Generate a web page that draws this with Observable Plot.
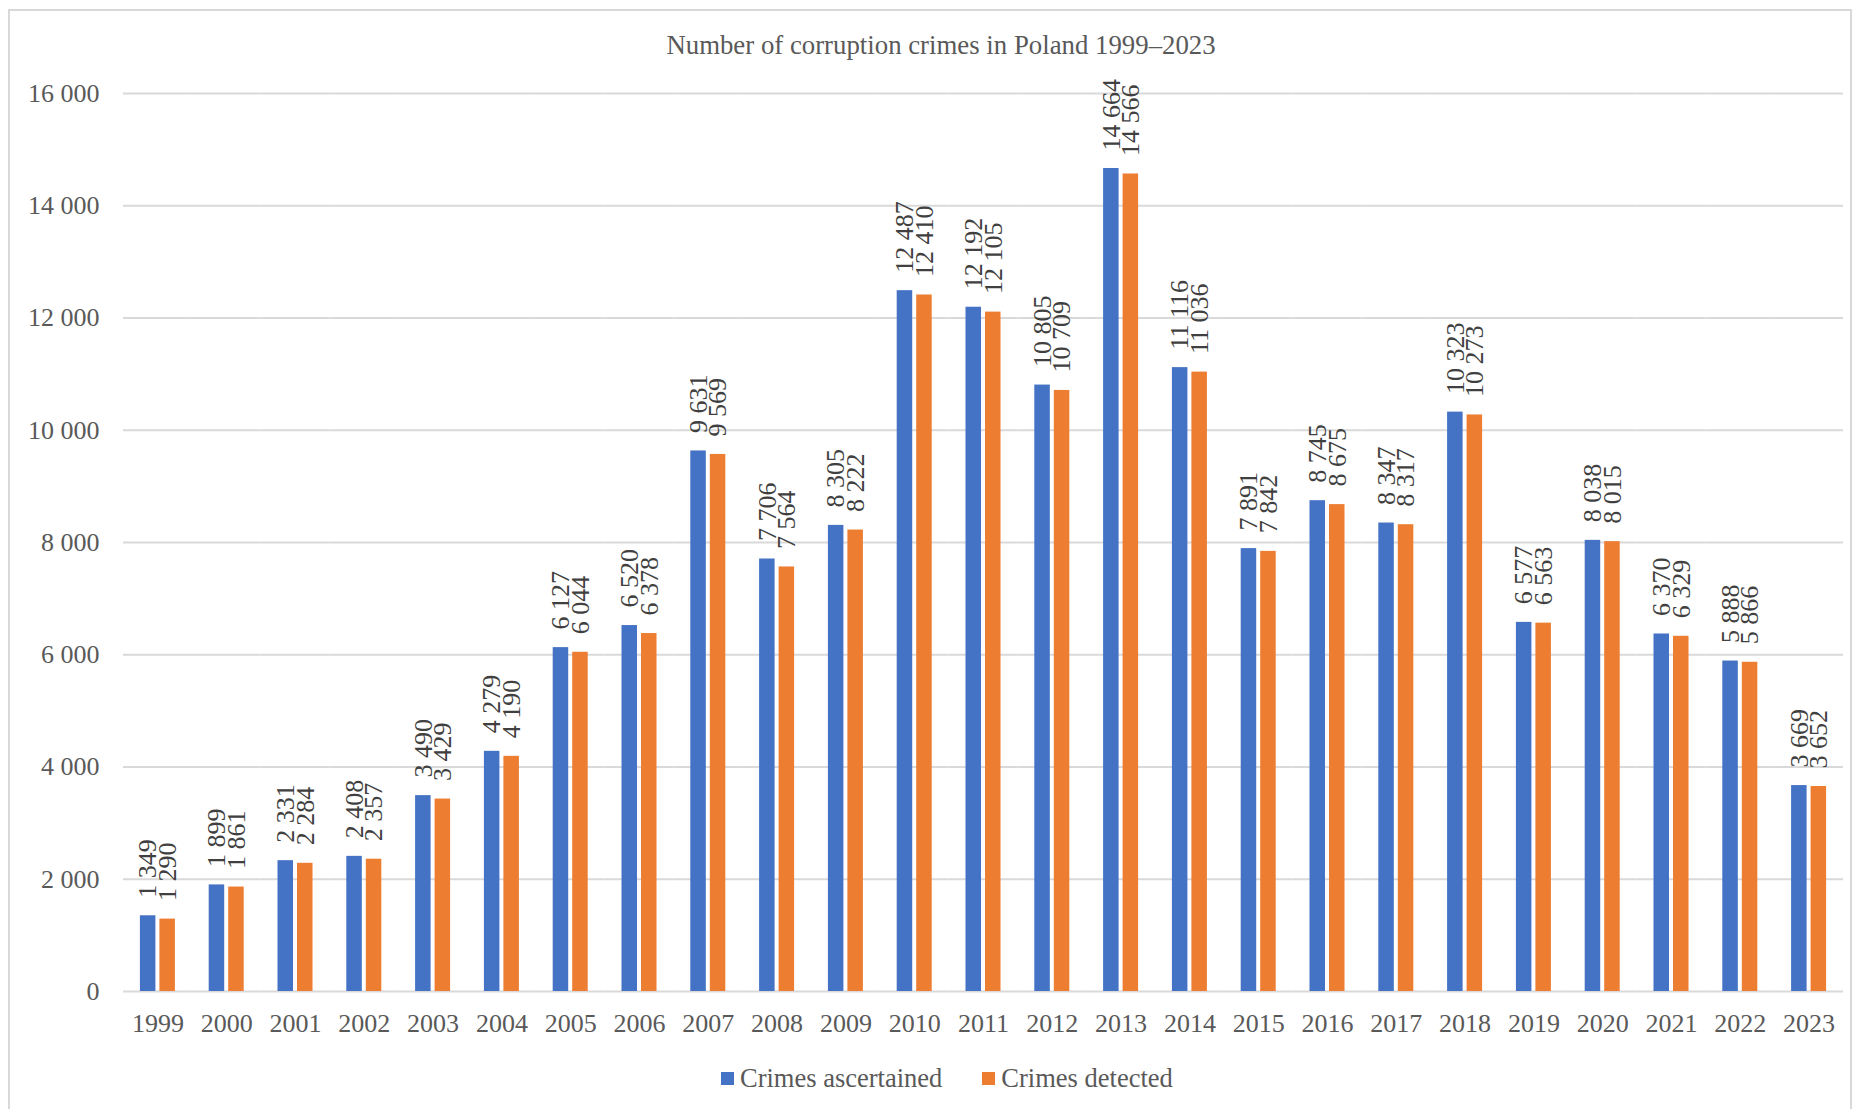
<!DOCTYPE html>
<html>
<head>
<meta charset="utf-8">
<script src="https://cdn.jsdelivr.net/npm/d3@7"></script>
<script src="https://cdn.jsdelivr.net/npm/@observablehq/plot@0.6"></script>
<style>
  html, body { margin: 0; padding: 0; background: #fff; overflow: hidden; }
  #wrap { position: relative; width: 1858px; height: 1109px; font-family: "Liberation Serif", "Times New Roman", serif; color: #595959; }
  #frame { position: absolute; left: 8px; top: 9px; width: 1844px; height: 1120px; border: 2px solid #d9d9d9; box-sizing: border-box; }
  #title { position: absolute; left: 0; width: 1882px; top: 30px; text-align: center; font-size: 26.8px; line-height: 30px; }
  #chart { position: absolute; left: 0; top: 0; }
  #chart svg text { font-family: "Liberation Serif", "Times New Roman", serif; }
  #legend { position: absolute; left: 721px; top: 1063px; display: flex; align-items: center; font-size: 26.5px; line-height: 30px; }
  .sw { width: 13px; height: 13px; display: inline-block; margin-right: 6px; }
  .item { display: flex; align-items: center; margin-right: 40px; }
</style>
</head>
<body>
<div id="wrap">
  <div id="frame"></div>
  <div id="chart"></div>
  <div id="title">Number of corruption crimes in Poland 1999–2023</div>
  <div id="legend"></div>
</div>
<script>
const years = ["1999","2000","2001","2002","2003","2004","2005","2006","2007","2008","2009","2010","2011","2012","2013","2014","2015","2016","2017","2018","2019","2020","2021","2022","2023"];
const seriesNames = ["Crimes ascertained", "Crimes detected"];
const ascertained = [1349,1899,2331,2408,3490,4279,6127,6520,9631,7706,8305,12487,12192,10805,14664,11116,7891,8745,8347,10323,6577,8038,6370,5888,3669];
const detected = [1290,1861,2284,2357,3429,4190,6044,6378,9569,7564,8222,12410,12105,10709,14566,11036,7842,8675,8317,10273,6563,8015,6329,5866,3652];
const yTicks = [0,2000,4000,6000,8000,10000,12000,14000,16000];
const colors = ["#4472C4", "#ED7D31"];

const rows = [];
years.forEach((y, i) => {
  rows.push({year: y, series: seriesNames[0], value: ascertained[i]});
  rows.push({year: y, series: seriesNames[1], value: detected[i]});
});
const fmt = v => d3.format(",")(v).replace(/,/g, " ");
const serif = '"Liberation Serif", "Times New Roman", serif';

const chart = Plot.plot({
  width: 1858,
  height: 1050,
  marginTop: 93,
  marginBottom: 59,
  marginLeft: 123,
  marginRight: 15,
  style: {fontFamily: serif, color: "#595959", background: "transparent"},
  fx: {domain: years, padding: 0, round: false},
  x: {domain: seriesNames, paddingInner: 0.205, paddingOuter: 0.866, round: false, axis: null},
  y: {domain: [0, 16000]},
  color: {domain: seriesNames, range: colors},
  marks: [
    Plot.gridY(yTicks, {stroke: "#d9d9d9", strokeOpacity: 1, strokeWidth: 2}),
    Plot.axisY(yTicks, {tickSize: 0, tickPadding: 24, tickFormat: fmt, label: null, fontSize: 26, fontFamily: serif}),
    Plot.axisFx({anchor: "bottom", tickSize: 0, tickPadding: 22, label: null, fontSize: 26, fontFamily: serif}),
    Plot.barY(rows, {fx: "year", x: "series", y: "value", fill: "series"}),
    Plot.text(rows, {fx: "year", x: "series", y: "value", text: d => fmt(d.value), rotate: -90, textAnchor: "start", dy: -18, fontSize: 26, fontFamily: serif, fill: "#404040"})
  ]
});
document.getElementById("chart").appendChild(chart);

const legend = document.getElementById("legend");
seriesNames.forEach((name, i) => {
  const it = document.createElement("div");
  it.className = "item";
  const sw = document.createElement("span");
  sw.className = "sw";
  sw.style.background = colors[i];
  it.appendChild(sw);
  const t = document.createElement("span");
  t.textContent = name;
  it.appendChild(t);
  legend.appendChild(it);
});
</script>
</body>
</html>
